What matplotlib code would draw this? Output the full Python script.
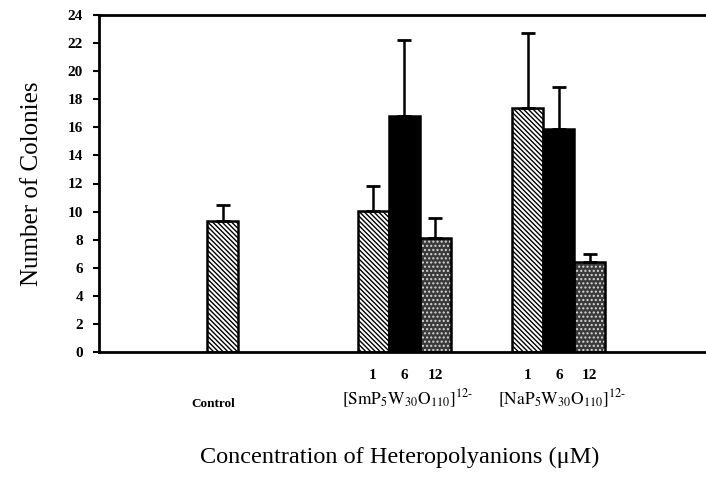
import matplotlib
matplotlib.use("Agg")
import matplotlib.pyplot as plt
import numpy as np

# colony counts (mean and upper error) per treatment
control_mean = [9.3]
control_err = [1.15]
doses = ["1", "6", "12"]
sm_means = [10.05, 16.8, 8.1]
sm_errs = [1.8, 5.4, 1.45]
na_means = [17.4, 15.9, 6.4]
na_errs = [5.3, 3.0, 0.6]
group_names = [r"$[\mathrm{SmP_5W_{30}O_{110}}]^{12\text{-}}$",
               r"$[\mathrm{NaP_5W_{30}O_{110}}]^{12\text{-}}$"]

plt.rcParams["font.family"] = "Liberation Serif"
plt.rcParams["mathtext.fontset"] = "stix"
plt.rcParams["hatch.linewidth"] = 1.0

fig = plt.figure(figsize=(7.06, 4.78), dpi=100)
ax = fig.add_axes([99 / 706, 126 / 478, 607 / 706, 337 / 478])

width = 1.0
control_x = 4.0
group_x = [9.85, 14.85]
diag = "\\" * 7
err_kw = dict(ecolor="black", elinewidth=1.8, capsize=5, capthick=2)


def draw_bar(x, m, e, kind):
    if kind == "diag":
        ax.bar([x], [m], width, facecolor="white", edgecolor="black",
               hatch=diag, linewidth=0, zorder=2)
    elif kind == "solid":
        ax.bar([x], [m], width, facecolor="black", linewidth=0, zorder=2)
    else:
        # dark stipple: light dots on a dark fill
        ax.bar([x], [m], width, facecolor="#3a3a3a", edgecolor="#d8d8d8",
               hatch="....", linewidth=0, zorder=2)
    ax.bar([x], [m], width, yerr=[[0], [e]], fill=False, edgecolor="black",
           linewidth=1.8, error_kw=err_kw, zorder=3)


draw_bar(control_x, control_mean[0], control_err[0], "diag")

kinds = ["diag", "solid", "dots"]
for gx, means, errs in zip(group_x, [sm_means, na_means], [sm_errs, na_errs]):
    xs = gx + (np.arange(len(means)) - 1) * width
    for x, m, e, k in zip(xs, means, errs, kinds):
        draw_bar(x, m, e, k)
    for x, d in zip(xs, doses):
        ax.text(x, -1.2, d, ha="center", va="top", fontsize=11,
                fontweight="bold")

ax.text(control_x - 0.3, -3.3, "Control", ha="center", va="top", fontsize=9.5,
        fontweight="bold")
for gx, name in zip(group_x, group_names):
    ax.text(gx + 0.1, -2.5, name, ha="center", va="top", fontsize=12.5)

ax.set_xlim(0, 19.6)
ax.set_ylim(0, 24)
ax.set_yticks(np.arange(0, 25, 2))
ax.set_xticks([])
for lab in ax.get_yticklabels():
    lab.set_fontweight("bold")
ax.tick_params(axis="y", direction="out", length=4.5, width=1.5, pad=7,
               labelsize=11)
for side in ["left", "bottom", "top"]:
    ax.spines[side].set_linewidth(2)
ax.spines["right"].set_visible(False)

ax.set_ylabel("Number of Colonies", fontsize=18, labelpad=18)
fig.text(400 / 706, 1 - 457 / 478, "Concentration of Heteropolyanions (\u03bcM)",
         ha="center", va="center", fontsize=17.5)

fig.savefig("out.png", dpi=100)
